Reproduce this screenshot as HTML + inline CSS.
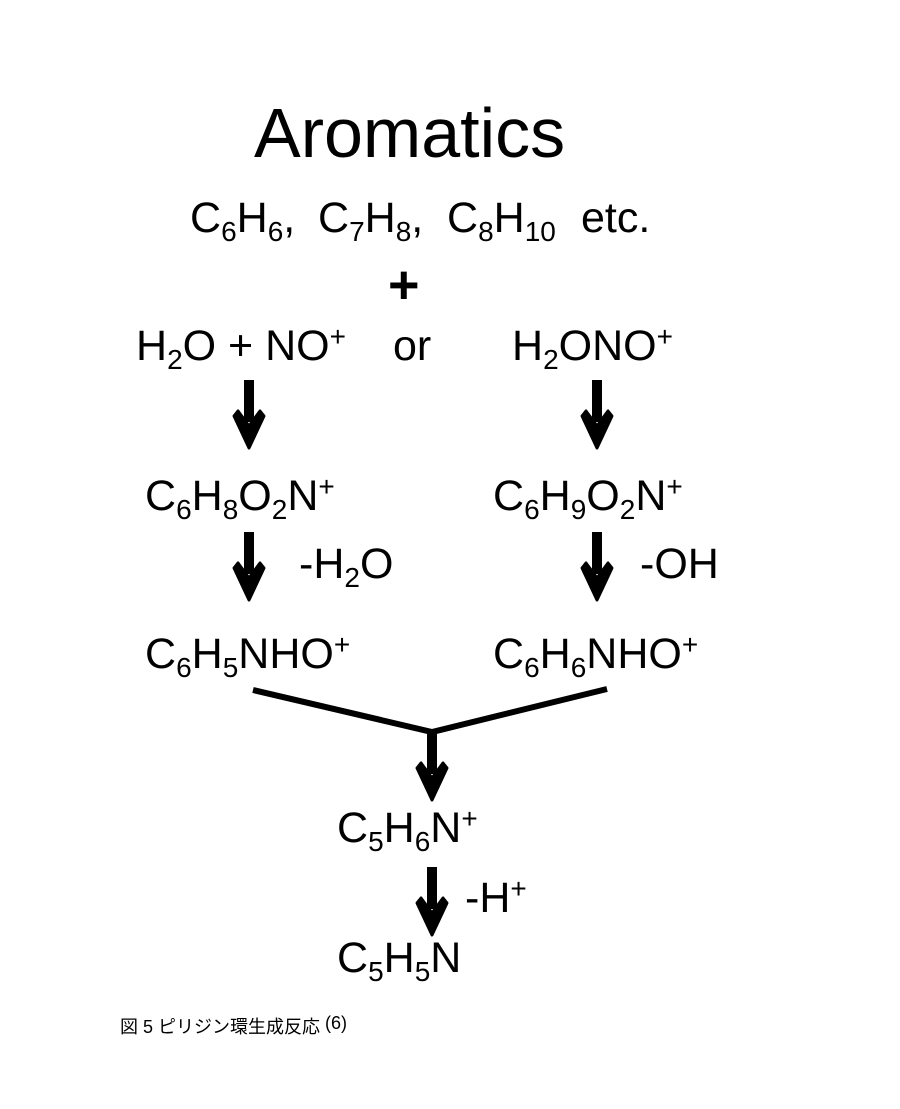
<!DOCTYPE html>
<html><head><meta charset="utf-8"><style>
html,body{margin:0;padding:0;background:#fff;}
svg{display:block;}
text{font-family:"Liberation Sans","Noto Sans CJK JP",sans-serif;fill:#000;}
.f{font-size:43px;}
.s{font-size:28px;}
</style></head><body>
<svg width="900" height="1109" viewBox="0 0 900 1109" xmlns="http://www.w3.org/2000/svg">
<defs>
<g id="arr">
<rect x="-5" y="0" width="10" height="42" fill="#000"/>
<path d="M-15,36 L0,68 L15,36 L11,31 L0,46 L-11,31 Z" fill="#000" stroke="#000" stroke-width="3" stroke-linejoin="round"/>
</g>
</defs>
<text x="254" y="157" style="font-size:70px">Aromatics</text>
<text x="190" y="232" class="f">C<tspan class="s" dy="9">6</tspan><tspan dy="-9">H</tspan><tspan class="s" dy="9">6</tspan><tspan dy="-9">,</tspan></text>
<text x="318" y="232" class="f">C<tspan class="s" dy="9">7</tspan><tspan dy="-9">H</tspan><tspan class="s" dy="9">8</tspan><tspan dy="-9">,</tspan></text>
<text x="447" y="232" class="f">C<tspan class="s" dy="9">8</tspan><tspan dy="-9">H</tspan><tspan class="s" dy="9">10</tspan></text>
<text x="581" y="232" class="f">etc.</text>
<text x="388" y="303" style="font-size:54px;font-weight:bold">+</text>
<text x="136" y="360" class="f">H<tspan class="s" dy="9">2</tspan><tspan dy="-9">O + NO</tspan><tspan class="s" dy="-14">+</tspan></text>
<text x="393" y="360" class="f">or</text>
<text x="512" y="360" class="f">H<tspan class="s" dy="9">2</tspan><tspan dy="-9">ONO</tspan><tspan class="s" dy="-14">+</tspan></text>
<use href="#arr" x="249" y="380"/>
<use href="#arr" x="597" y="380"/>
<text x="145" y="510" class="f">C<tspan class="s" dy="9">6</tspan><tspan dy="-9">H</tspan><tspan class="s" dy="9">8</tspan><tspan dy="-9">O</tspan><tspan class="s" dy="9">2</tspan><tspan dy="-9">N</tspan><tspan class="s" dy="-14">+</tspan></text>
<text x="493" y="510" class="f">C<tspan class="s" dy="9">6</tspan><tspan dy="-9">H</tspan><tspan class="s" dy="9">9</tspan><tspan dy="-9">O</tspan><tspan class="s" dy="9">2</tspan><tspan dy="-9">N</tspan><tspan class="s" dy="-14">+</tspan></text>
<use href="#arr" x="249" y="532"/>
<use href="#arr" x="597" y="532"/>
<text x="299" y="578" class="f">-H<tspan class="s" dy="9">2</tspan><tspan dy="-9">O</tspan></text>
<text x="640" y="578" class="f">-OH</text>
<text x="145" y="668" class="f">C<tspan class="s" dy="9">6</tspan><tspan dy="-9">H</tspan><tspan class="s" dy="9">5</tspan><tspan dy="-9">NHO</tspan><tspan class="s" dy="-14">+</tspan></text>
<text x="493" y="668" class="f">C<tspan class="s" dy="9">6</tspan><tspan dy="-9">H</tspan><tspan class="s" dy="9">6</tspan><tspan dy="-9">NHO</tspan><tspan class="s" dy="-14">+</tspan></text>
<polyline points="253,690 432,732 607,689" fill="none" stroke="#000" stroke-width="6"/>
<use href="#arr" x="432" y="732"/>
<text x="337" y="842" class="f">C<tspan class="s" dy="9">5</tspan><tspan dy="-9">H</tspan><tspan class="s" dy="9">6</tspan><tspan dy="-9">N</tspan><tspan class="s" dy="-14">+</tspan></text>
<use href="#arr" x="432" y="867"/>
<text x="465" y="912" class="f">-H<tspan class="s" dy="-14">+</tspan></text>
<text x="337" y="972" class="f">C<tspan class="s" dy="9">5</tspan><tspan dy="-9">H</tspan><tspan class="s" dy="9">5</tspan><tspan dy="-9">N</tspan></text>
<text x="120" y="1033" style="font-size:18px">図 5 ピリジン環生成反応<tspan dy="-4"> (6)</tspan></text>
</svg>
</body></html>
